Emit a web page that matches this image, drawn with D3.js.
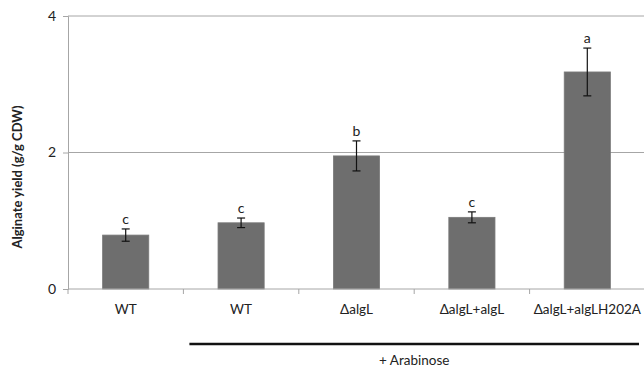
<!DOCTYPE html>
<html>
<head>
<meta charset="utf-8">
<script src="https://cdn.jsdelivr.net/npm/d3@7"></script>
<style>
  body { margin: 0; background: #fff; }
  svg text { font-family: Lato, "Open Sans", sans-serif; fill: #222; }
</style>
</head>
<body>
<div id="chart"></div>
<script>
// Data
const categories = ["WT", "WT ", "\u0394algL", "\u0394algL+algL", "\u0394algL+algLH202A"];
const yields = [0.79, 0.97, 1.95, 1.05, 3.18];
const errors = [0.09, 0.07, 0.22, 0.08, 0.35];
const letters = ["c", "c", "b", "c", "a"];
const yTicks = [0, 2, 4];
const groupLabel = "+ Arabinose";

const width = 644;
const height = 368;
const margin = { top: 16, right: 0, bottom: 79, left: 68 };

const svg = d3.select("#chart")
    .append("svg")
    .attr("width", width)
    .attr("height", height);

const x = d3.scaleBand()
    .domain(categories)
    .range([margin.left, margin.left + 577])
    .paddingInner(0.6)
    .paddingOuter(0.3);

const y = d3.scaleLinear()
    .domain([0, 4])
    .range([height - margin.bottom, margin.top]);

// gridlines
svg.append("g")
    .selectAll("line")
    .data(yTicks.filter(d => d > 0))
    .enter()
    .append("line")
    .attr("x1", margin.left)
    .attr("x2", width)
    .attr("y1", d => y(d))
    .attr("y2", d => y(d))
    .attr("stroke", "#a6a6a6")
    .attr("stroke-width", 1);

// y axis
const yAxis = svg.append("g")
    .attr("transform", `translate(${margin.left},0)`)
    .call(d3.axisLeft(y).tickValues(yTicks).tickFormat(d3.format("d")).tickSize(5).tickPadding(7));
yAxis.select(".domain").attr("stroke", "#a6a6a6");
yAxis.selectAll(".tick line").attr("stroke", "#a6a6a6");
yAxis.selectAll("text").style("font-size", "14px").attr("fill", "#222");

// bars
svg.append("g")
    .selectAll("rect")
    .data(yields)
    .enter()
    .append("rect")
    .attr("x", (d, i) => x(categories[i]))
    .attr("width", x.bandwidth())
    .attr("y", d => y(d))
    .attr("height", d => y(0) - y(d))
    .attr("fill", "#6e6e6e")
    .attr("stroke", "#7a7a7a")
    .attr("stroke-width", 0.8);

// x axis with ticks at band edges
const bandEdges = categories.map(c => x(c) + x.bandwidth() / 2 - x.step() / 2);
bandEdges.push(x(categories[4]) + x.bandwidth() / 2 + x.step() / 2);

svg.append("line")
    .attr("x1", margin.left)
    .attr("x2", width)
    .attr("y1", y(0))
    .attr("y2", y(0))
    .attr("stroke", "#a6a6a6");

svg.append("g")
    .selectAll("line")
    .data(bandEdges)
    .enter()
    .append("line")
    .attr("x1", d => d)
    .attr("x2", d => d)
    .attr("y1", y(0))
    .attr("y2", y(0) + 5)
    .attr("stroke", "#a6a6a6");

svg.append("g")
    .selectAll("text")
    .data(categories)
    .enter()
    .append("text")
    .attr("x", d => x(d) + x.bandwidth() / 2)
    .attr("y", y(0) + 25)
    .attr("text-anchor", "middle")
    .style("font-size", "13.5px")
    .text(d => d.trim());

// error bars
const eb = svg.append("g")
    .attr("stroke", "#111")
    .attr("stroke-width", 1.2);
yields.forEach((v, i) => {
    const cx = x(categories[i]) + x.bandwidth() / 2;
    eb.append("line")
        .attr("x1", cx).attr("x2", cx)
        .attr("y1", y(v + errors[i])).attr("y2", y(v - errors[i]));
    [v + errors[i], v - errors[i]].forEach(e => {
        eb.append("line")
            .attr("x1", cx - 4).attr("x2", cx + 4)
            .attr("y1", y(e)).attr("y2", y(e));
    });
});

// significance letters
svg.append("g")
    .selectAll("text")
    .data(letters)
    .enter()
    .append("text")
    .attr("x", (d, i) => x(categories[i]) + x.bandwidth() / 2)
    .attr("y", (d, i) => y(yields[i] + errors[i]) - 5)
    .attr("text-anchor", "middle")
    .style("font-size", "14px")
    .text(d => d);

// y axis title
svg.append("text")
    .attr("transform", "translate(22,177) rotate(-90)")
    .attr("text-anchor", "middle")
    .style("font-size", "13px")
    .style("font-weight", "bold")
    .text("Alginate yield (g/g CDW)");

// arabinose bracket
svg.append("line")
    .attr("x1", bandEdges[1] + 6)
    .attr("x2", 639)
    .attr("y1", 344)
    .attr("y2", 344)
    .attr("stroke", "#111")
    .attr("stroke-width", 2.5);

svg.append("text")
    .attr("x", (bandEdges[1] + 6 + 639) / 2)
    .attr("y", 365)
    .attr("text-anchor", "middle")
    .style("font-size", "13.5px")
    .text(groupLabel);
</script>
</body>
</html>
